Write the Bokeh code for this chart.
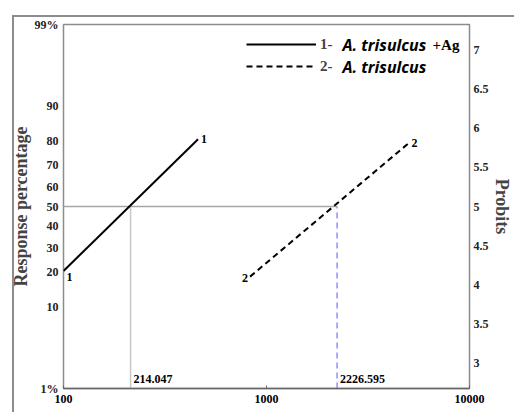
from statistics import NormalDist
from bokeh.plotting import figure
from bokeh.models import (LinearAxis, FixedTicker, Range1d, Legend, LegendItem,
                          Label, ColumnDataSource, InlineStyleSheet)
from bokeh.core.properties import value
from bokeh.embed import file_html
from bokeh.resources import INLINE

# ---------------- data ----------------
pct_ticks = [1, 10, 20, 30, 40, 50, 60, 70, 80, 90, 99]
pct_labels = ["1%", "10", "20", "30", "40", "50", "60", "70", "80", "90", "99%"]
probit_ticks = [3, 3.5, 4, 4.5, 5, 5.5, 6, 6.5, 7]
x_ticks = [100, 1000, 10000]
x_labels = ["100", "1000", "10000"]

line1_dose = [100, 460]
line1_pct = [20.5, 80.5]
line2_dose = [830, 5000]
line2_pct = [18.5, 79]

lc50 = [214.047, 2226.595]
lc50_labels = ["214.047", "2226.595"]
lc50_probit = 5

series_names = ["1-", "2-"]
series_species = ["A. trisulcus", "A. trisulcus"]
series_suffix = ["+Ag", ""]


def probit(pct):
    return 5 + NormalDist().inv_cdf(pct / 100.0)


y_lo, y_hi = probit(1), probit(99)

SERIF = "Liberation Serif"

W, H = 514, 412
ML, MR, MT, MB = 63, 42, 24, 24
FW = W - ML - MR      # frame width
FH = H - MT - MB      # frame height

frame_css = InlineStyleSheet(css=""":host { position: relative; }
:host::before {
  content: ""; position: absolute; left: 12px; top: 15px; right: 0; bottom: 0;
  border-left: 2px solid #8c8c8c; border-top: 2px solid #8c8c8c;
  z-index: 100; pointer-events: none;
}""")

p = figure(width=W, height=H, x_axis_type="log",
           x_range=Range1d(100, 10000), y_range=Range1d(y_lo, y_hi),
           output_backend="svg", toolbar_location=None,
           min_border_left=ML, min_border_top=MT, min_border_bottom=MB,
           min_border_right=MR)
p.stylesheets = [frame_css]
p.grid.visible = False
p.outline_line_color = "#8c8c8c"
p.outline_line_width = 1.5
p.background_fill_color = "white"
p.border_fill_color = "white"

# x axis
xa = p.xaxis[0]
xa.ticker = FixedTicker(ticks=x_ticks)
xa.major_label_overrides = {t: l for t, l in zip(x_ticks, x_labels)}
xa.minor_tick_line_color = None
xa.major_tick_in = 3
xa.major_tick_out = 0
xa.major_tick_line_color = "#666666"
xa.axis_line_color = "#666666"
xa.axis_line_width = 1.5
xa.major_label_text_font = SERIF
xa.major_label_text_font_style = "bold"
xa.major_label_text_font_size = "12px"
xa.major_label_text_color = "black"
xa.major_label_standoff = 6

# left y axis (percentage on probit scale)
ya = p.yaxis[0]
ya.ticker = FixedTicker(ticks=[probit(v) for v in pct_ticks])
ya.major_label_overrides = {probit(v): l for v, l in zip(pct_ticks, pct_labels)}
ya.minor_tick_line_color = None
ya.major_tick_line_color = None
ya.major_tick_in = 0
ya.major_tick_out = 0
ya.axis_line_color = None
ya.major_label_text_font = SERIF
ya.major_label_text_font_style = "bold"
ya.major_label_text_font_size = "12px"
ya.major_label_text_color = "#222222"
ya.major_label_standoff = 5
ya.axis_label = "Response percentage"
ya.axis_label_text_font = SERIF
ya.axis_label_text_font_style = "bold"
ya.axis_label_text_font_size = "18px"
ya.axis_label_standoff = 1

# right axis (probits)
ra = LinearAxis(ticker=FixedTicker(ticks=probit_ticks))
ra.major_label_overrides = {t: f"{t:g}" for t in probit_ticks}
ra.minor_tick_line_color = None
ra.major_tick_line_color = None
ra.major_tick_in = 0
ra.major_tick_out = 0
ra.axis_line_color = None
ra.major_label_text_font = SERIF
ra.major_label_text_font_style = "bold"
ra.major_label_text_font_size = "12px"
ra.major_label_text_color = "#222222"
ra.major_label_standoff = 4
ra.axis_label = "Probits"
ra.axis_label_text_font = SERIF
ra.axis_label_text_font_style = "bold"
ra.axis_label_text_font_size = "18px"
ra.axis_label_standoff = 0
p.add_layout(ra, "right")

# reference lines at LC50
p.segment(x0=[line1_dose[0]], y0=[lc50_probit], x1=[lc50[1]], y1=[lc50_probit],
          line_color="#a6a6a6", line_width=1.5)
p.segment(x0=[lc50[0]], y0=[y_lo], x1=[lc50[0]], y1=[lc50_probit],
          line_color="#c8c8c8", line_width=1.5)
p.segment(x0=[lc50[1]], y0=[y_lo], x1=[lc50[1]], y1=[lc50_probit],
          line_color="#8f8fff", line_width=1.5, line_dash="6 4")

# regression lines
y1 = [probit(v) for v in line1_pct]
y2 = [probit(v) for v in line2_pct]
r1 = p.line(line1_dose, y1, line_color="black", line_width=2)
r2 = p.line(line2_dose, y2, line_color="black", line_width=2, line_dash="6 4")

# end labels
num_font = dict(text_font=value(SERIF), text_font_style="bold",
                text_font_size="12px", text_color="black")
p.text(x=[line1_dose[0]], y=[y1[0]], text=["1"], x_offset=3, y_offset=2,
       text_baseline="top", text_align="left", **num_font)
p.text(x=[line1_dose[1]], y=[y1[1]], text=["1"], x_offset=3, y_offset=0,
       text_baseline="middle", text_align="left", **num_font)
p.text(x=[line2_dose[0]], y=[y2[0]], text=["2"], x_offset=-2, y_offset=1,
       text_baseline="middle", text_align="right", **num_font)
p.text(x=[line2_dose[1]], y=[y2[1]], text=["2"], x_offset=3, y_offset=0,
       text_baseline="middle", text_align="left", **num_font)

# LC50 value labels
src = ColumnDataSource(dict(x=lc50, y=[y_lo, y_lo], t=lc50_labels))
p.text(x="x", y="y", text="t", source=src, x_offset=3, y_offset=-10,
       text_baseline="middle", text_align="left", **num_font)

# legend (frame-relative screen positions, anchored to the frame's right edge)
leg_x = FW - 226
legend = Legend(items=[LegendItem(label=series_names[0], renderers=[r1]),
                       LegendItem(label=series_names[1], renderers=[r2])],
                location=(leg_x, FH - 52), padding=0, margin=0, spacing=2,
                glyph_width=70, glyph_height=20, label_height=20,
                label_standoff=4, border_line_color=None,
                background_fill_alpha=0,
                label_text_font=SERIF, label_text_font_style="bold",
                label_text_font_size="15px")
p.add_layout(legend, "center")

row_y = [FH - 20, FH - 42]
for i in range(2):
    p.add_layout(Label(x=FW - 130, y=row_y[i], x_units="screen", y_units="screen",
                       text=series_species[i], text_font="Open Sans",
                       text_font_style="bold italic", text_font_size="16px",
                       text_baseline="middle", text_color="black"))
    if series_suffix[i]:
        p.add_layout(Label(x=FW - 40, y=row_y[i], x_units="screen", y_units="screen",
                           text=series_suffix[i], text_font=SERIF,
                           text_font_style="bold", text_font_size="15px",
                           text_baseline="middle", text_color="black"))

open("out.html", "w").write(file_html(p, INLINE))
